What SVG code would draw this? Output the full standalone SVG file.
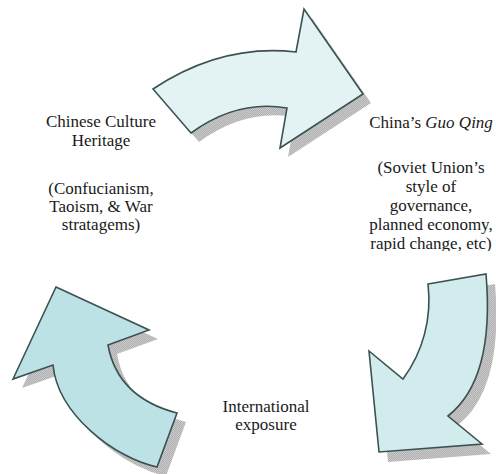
<svg xmlns="http://www.w3.org/2000/svg" width="496" height="474" viewBox="0 0 496 474">
  <defs>
    <!-- dithered grey used for the drop shadows -->
    <pattern id="dither" patternUnits="userSpaceOnUse" width="2" height="2">
      <rect width="2" height="2" fill="#cacaca"/>
      <rect width="1" height="1" fill="#b0b0b0"/>
      <rect x="1" y="1" width="1" height="1" fill="#b0b0b0"/>
    </pattern>
    <clipPath id="rightTextClip">
      <rect x="340" y="100" width="156" height="151"/>
    </clipPath>
    <path id="arrowTop" d="M153,89 Q221.5,43.5 296,52 L304,9 L363,94 L280,148 L287,108 Q237,99.5 191,133 Z"/>
    <path id="arrowRight" d="M428,284 L486,274 Q495,379 448,416 L482,444 L379,452 L369,351 L403,379 C423,352 432,318 428,284 Z"/>
    <path id="arrowLeft" d="M56,287 L149,330 L108,345 Q117.5,397.5 177,413 L157,467 C115,458 58,415 53,365 L13,379 Z"/>
  </defs>
  <style>
    .shadow { fill: url(#dither); stroke: none; }
    .arrow { stroke: #3b5152; stroke-width: 1.6; stroke-linejoin: miter; }
    .label { font-family: "Liberation Serif", "Times New Roman", serif; font-size: 17px; fill: #1a1a1a; text-anchor: middle; }
  </style>

  <g id="connectors">
    <g id="arrow-top">
      <use href="#arrowTop" class="shadow" transform="translate(8,9)"/>
      <use href="#arrowTop" class="arrow" fill="#e3f3f3"/>
    </g>
    <g id="arrow-right">
      <use href="#arrowRight" class="shadow" transform="translate(9,10)"/>
      <use href="#arrowRight" class="arrow" fill="#d2ebec"/>
    </g>
    <g id="arrow-left">
      <use href="#arrowLeft" class="shadow" transform="translate(9,9)"/>
      <use href="#arrowLeft" class="arrow" fill="#bde2e5"/>
    </g>
  </g>

  <g id="node-culture">
    <text class="label" x="101" y="127">Chinese Culture</text>
    <text class="label" x="101" y="146">Heritage</text>
    <text class="label" x="101" y="194">(Confucianism,</text>
    <text class="label" x="101" y="212">Taoism, &amp; War</text>
    <text class="label" x="101" y="230">stratagems)</text>
  </g>

  <g id="node-guoqing" clip-path="url(#rightTextClip)">
    <text class="label" x="431" y="128">China’s <tspan font-style="italic">Guo Qing</tspan></text>
    <text class="label" x="431" y="173">(Soviet Union’s</text>
    <text class="label" x="431" y="192">style of</text>
    <text class="label" x="431" y="211">governance,</text>
    <text class="label" x="431" y="230">planned economy,</text>
    <text class="label" x="431" y="249">rapid change, etc)</text>
  </g>

  <g id="node-international">
    <text class="label" x="266" y="412">International</text>
    <text class="label" x="266" y="430">exposure</text>
  </g>
</svg>
